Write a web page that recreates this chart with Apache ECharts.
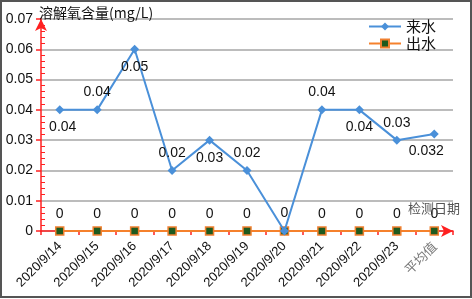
<!DOCTYPE html>
<html>
<head>
<meta charset="utf-8">
<script src="https://cdn.jsdelivr.net/npm/echarts@6/dist/echarts.min.js"></script>
<style>
  html, body { margin: 0; padding: 0; background: #fff; }
  #chart { width: 472px; height: 299px; }
</style>
</head>
<body>
<div id="chart"></div>
<script>
// 日期类目
const categories = ['2020/9/14', '2020/9/15', '2020/9/16', '2020/9/17', '2020/9/18',
  '2020/9/19', '2020/9/20', '2020/9/21', '2020/9/22', '2020/9/23', '平均值'];
// 来水 溶解氧
const inflowValues = [0.04, 0.04, 0.06, 0.02, 0.03, 0.02, 0, 0.04, 0.04, 0.03, 0.032];
// 图上标注的文字（与点值不完全一致）
const inflowLabels = ['0.04', '0.04', '0.05', '0.02', '0.03', '0.02', '0', '0.04', '0.04', '0.03', '0.032'];
const inflowLabelPos = ['bottom', 'top', 'bottom', 'top', 'bottom', 'top', 'top', 'top', 'bottom', 'top', 'bottom'];
// 出水 溶解氧
const outflowValues = [0, 0, 0, 0, 0, 0, 0, 0, 0, 0, 0];
const yTicks = [0, 0.01, 0.02, 0.03, 0.04, 0.05, 0.06, 0.07];

const FONT = '"Liberation Sans", Arial, "Noto Sans CJK SC", sans-serif';
const CJK = '"Noto Sans CJK SC", sans-serif';
const RED = '#ff2020';

const chart = echarts.init(document.getElementById('chart'));

const inflowData = inflowValues.map((v, i) => ({
  value: v,
  label: {
    position: inflowLabelPos[i],
    distance: 6,
    offset: i === 10 ? [-8, 0] : (i === 0 ? [3, 0] : [0, 0]),
    formatter: () => inflowLabels[i]
  }
}));

const outflowData = outflowValues.map((v, i) => ({
  value: v,
  label: { show: i !== 6 }
}));

chart.setOption({
  animation: false,
  backgroundColor: '#fff',
  textStyle: { fontFamily: FONT },
  title: [
    {
      text: '溶解氧含量(mg/L)', left: 34, top: 1,
      textStyle: { fontSize: 14, fontWeight: 'normal', color: '#111', fontFamily: CJK }
    },
    {
      text: '检测日期', left: 403, top: 197,
      textStyle: { fontSize: 13, fontWeight: 'normal', color: '#555', fontFamily: CJK }
    }
  ],
  legend: {
    orient: 'vertical', left: 363, top: 14, itemGap: 2,
    itemWidth: 32, itemHeight: 10,
    textStyle: { fontSize: 15, color: '#111', fontFamily: CJK },
    data: ['来水', '出水']
  },
  grid: { left: 41, right: 19, top: 19, bottom: 68 },
  xAxis: {
    type: 'category',
    data: categories,
    boundaryGap: true,
    axisLine: {
      show: true, symbol: ['none', 'arrow'], symbolSize: [9, 12],
      lineStyle: { color: RED, width: 1.5 }
    },
    axisTick: { show: true, length: 4, lineStyle: { color: RED, width: 1.5 } },
    axisLabel: {
      rotate: 45, fontSize: 13, color: '#111', margin: 13, interval: 0,
      padding: [0, 0, 0, 0],
      formatter: v => v === '平均值' ? '{avg|' + v + '}' : v,
      rich: { avg: { fontSize: 13, color: '#777', fontFamily: CJK } }
    },
    splitLine: { show: false }
  },
  yAxis: [
    {
      type: 'value', min: 0, max: 0.07, interval: 0.01,
      axisLine: {
        show: true, symbol: ['none', 'arrow'], symbolSize: [9, 12],
        lineStyle: { color: RED, width: 1.5 }
      },
      axisTick: { show: true, length: 5, lineStyle: { color: RED, width: 1.5 } },
      axisLabel: {
        fontSize: 14, color: '#111', margin: 8,
        formatter: v => String(yTicks.find(t => Math.abs(t - v) < 1e-9) ?? v)
      },
      splitLine: { show: true, lineStyle: { color: '#a6a6a6', width: 1.5 } }
    },
    {
      type: 'value', min: 0, max: 0.07, interval: 0.01, position: 'left',
      axisLine: { show: false },
      axisTick: { show: false, inside: true },
      minorTick: { show: true, splitNumber: 5, length: 4, lineStyle: { color: RED, width: 1 } },
      axisLabel: { show: false },
      splitLine: { show: false }
    }
  ],
  series: [
    {
      name: '来水', type: 'line', data: inflowData, z: 4,
      symbol: 'diamond', symbolSize: 9, showAllSymbol: true,
      itemStyle: { color: '#4a90d9' },
      lineStyle: { color: '#4a90d9', width: 2 },
      label: { show: true, fontSize: 14, color: '#111' }
    },
    {
      name: '出水', type: 'line', data: outflowData, z: 3,
      symbol: 'rect', symbolSize: 8, showAllSymbol: true,
      itemStyle: { color: '#1e5a1e', borderColor: '#f08030', borderWidth: 1.5 },
      lineStyle: { color: '#f5812c', width: 2 },
      label: { show: true, position: 'top', distance: 5, fontSize: 14, color: '#111' }
    }
  ],
  graphic: [
    {
      type: 'rect', silent: true, z: 100,
      shape: { x: 1, y: 1, width: 470, height: 296 },
      style: { fill: 'none', stroke: '#555', lineWidth: 2 }
    }
  ]
});

window.addEventListener('resize', () => chart.resize());
</script>
</body>
</html>
